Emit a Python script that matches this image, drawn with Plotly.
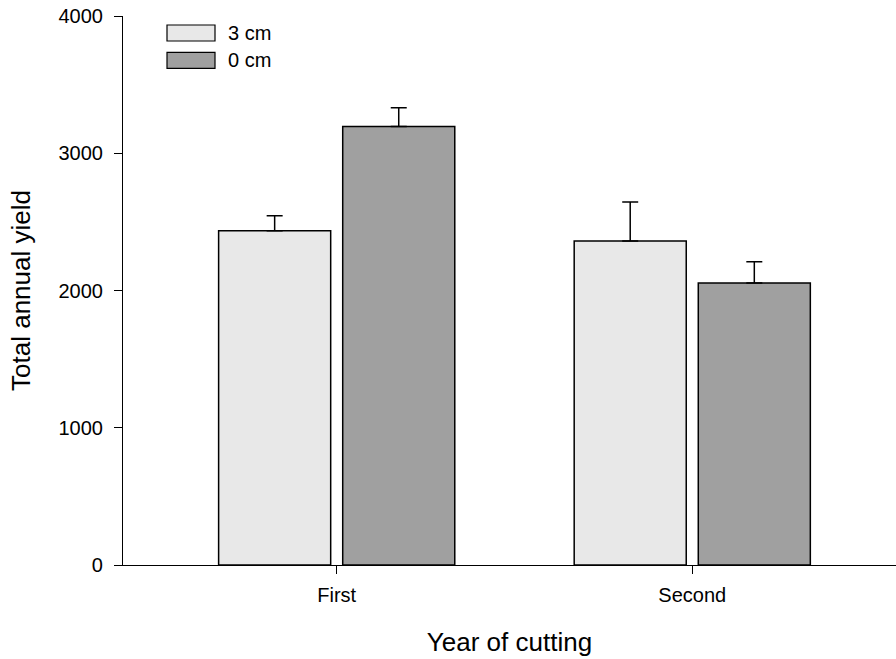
import plotly.graph_objects as go

# Mean total annual yield per cutting year and cutting height, with upper error bars
years = ["First", "Second"]
series_names = ["3 cm", "0 cm"]
yield_3cm = [2435, 2360]
err_3cm = [110, 285]
yield_0cm = [3195, 2055]
err_0cm = [137, 155]
y_ticks = [0, 1000, 2000, 3000, 4000]

fills = ["#e8e8e8", "#a0a0a0"]
font_family = "Liberation Sans, Arial, sans-serif"

fig = go.Figure()
for name, vals, errs, col in zip(series_names, [yield_3cm, yield_0cm],
                                 [err_3cm, err_0cm], fills):
    fig.add_trace(go.Bar(
        x=years, y=vals, name=name, showlegend=False,
        marker=dict(color=col, line=dict(color="black", width=1.5)),
        error_y=dict(type="data", array=errs, symmetric=False,
                     arrayminus=[0] * len(errs), color="black",
                     thickness=1.5, width=8),
    ))

# Legend drawn as wide swatches with labels at the top-left of the plot
H = 549.0  # plot height in px
def py(v):
    return (565 - v) / H
def px(v):
    return (v - 123) / 773.0

swatch_rows = [(25, 41), (52.3, 68.3)]
for (y0, y1), name, col in zip(swatch_rows, series_names, fills):
    fig.add_shape(type="rect", xref="paper", yref="paper",
                  x0=px(167), x1=px(215), y0=py(y1), y1=py(y0),
                  fillcolor=col, line=dict(color="black", width=1.2))
    fig.add_annotation(xref="paper", yref="paper", x=px(226), y=py((y0 + y1) / 2),
                       text=name, showarrow=False, xanchor="left", yanchor="middle",
                       font=dict(size=20, color="black", family=font_family))

fig.update_layout(
    width=896, height=659,
    margin=dict(l=123, r=0, t=16, b=94),
    plot_bgcolor="white", paper_bgcolor="white",
    barmode="group", bargap=0.302, bargroupgap=0.097,
    font=dict(family=font_family, color="black"),
    xaxis=dict(
        range=[-0.601, 1.573],
        showline=True, linecolor="black", linewidth=1.2,
        ticks="outside", ticklen=8, tickwidth=1.2, tickcolor="black",
        tickfont=dict(size=20), ticklabelstandoff=4,
        showgrid=False, zeroline=False,
        title=dict(text="Year of cutting", font=dict(size=26), standoff=27),
    ),
    yaxis=dict(
        range=[0, 4000], tickvals=y_ticks,
        showline=True, linecolor="black", linewidth=1.2,
        ticks="outside", ticklen=8, tickwidth=1.2, tickcolor="black",
        tickfont=dict(size=20), ticklabelstandoff=7,
        showgrid=False, zeroline=False,
        title=dict(text="Total annual yield", font=dict(size=26), standoff=20),
    ),
)

fig.write_html("out.html")
